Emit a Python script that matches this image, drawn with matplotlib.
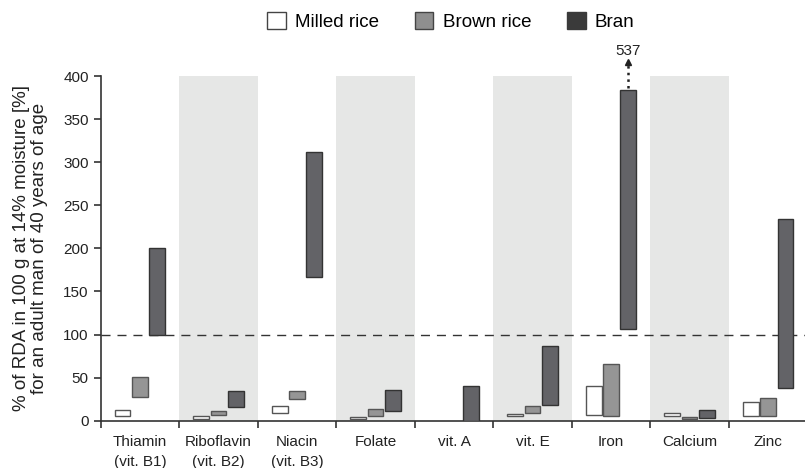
import numpy as np
import matplotlib.pyplot as plt
from matplotlib.patches import Patch

plt.rcParams['font.family'] = ['Liberation Sans', 'DejaVu Sans']

# nutrient categories and tick labels
nutrients = ['Thiamin\n(vit. B1)', 'Riboflavin\n(vit. B2)', 'Niacin\n(vit. B3)', 'Folate',
             'vit. A', 'vit. E', 'Iron', 'Calcium', 'Zinc']

# ranges (% of RDA): low and high per nutrient, None = no data
milled_low = [5, 2, 9, 1.5, None, 5, 7, 6, 6]
milled_high = [13, 5, 17, 4, None, 8, 40, 8.5, 22]
brown_low = [27, 6.5, 25, 5.5, None, 8.5, 5, 2, 6]
brown_high = [51, 11, 34, 13.5, None, 17, 65.5, 4.7, 26.5]
bran_low = [100, 16, 167, 11, 0, 18, 106, 3, 38]
bran_high = [200, 35, 312, 36, 40.5, 87, 537, 12.5, 234]

rda_line = 100
y_cap = 384  # bars above this are cut off and labelled

fig = plt.figure(figsize=(8.05, 4.68), dpi=100)
ax = fig.add_axes([0.125, 0.101, 0.875, 0.7365])

x = np.arange(len(nutrients)) + 0.5
width = 0.2

# shaded bands behind every other nutrient
for i in range(1, len(nutrients), 2):
    ax.axvspan(i, i + 1, ymin=0, ymax=1, color='#e6e7e6', zorder=0, lw=0)

series = [
    (milled_low, milled_high, -0.22, 'white', '#555555'),
    (brown_low, brown_high, 0.0, '#959595', '#555555'),
    (bran_low, bran_high, 0.22, '#636367', '#333333'),
]
for lows, highs, off, fc, ec in series:
    for xi, lo, hi in zip(x, lows, highs):
        if lo is None:
            continue
        top = min(hi, y_cap)
        ax.bar(xi + off, top - lo, bottom=lo, width=width, color=fc,
               edgecolor=ec, linewidth=1, zorder=3)
        if hi > y_cap:
            xa = xi + off
            ax.plot([xa, xa], [y_cap + 2, y_cap + 30], ls=':', color='#222222',
                    lw=1.8, clip_on=False, zorder=4)
            ax.plot([xa], [y_cap + 32], marker='^', color='#222222', ms=5,
                    clip_on=False, zorder=4)
            ax.text(xa, y_cap + 37, f'{hi:.0f}', ha='center', va='bottom',
                    fontsize=11, color='#222222')

ax.axhline(rda_line, color='#333333', lw=1, dashes=(6.5, 5), zorder=2)

ax.set_xlim(0, 8.97)
ax.set_ylim(0, 400)
ax.set_yticks(range(0, 401, 50))
ax.set_xticks(range(0, 9))
ax.set_xticklabels([])
ax.set_xticks(x, minor=True)
ax.set_xticklabels(nutrients, minor=True, fontsize=11, color='#222222',
                   linespacing=1.55)
ax.tick_params(axis='x', which='minor', length=0, pad=10)
ax.tick_params(axis='x', which='major', length=5, width=1.2, color='#333333')
ax.tick_params(axis='y', length=5, width=1.2, color='#333333', labelsize=11,
               labelcolor='#222222')

for s in ['top', 'right']:
    ax.spines[s].set_visible(False)
for s in ['left', 'bottom']:
    ax.spines[s].set_color('#333333')
    ax.spines[s].set_linewidth(1.2)

ax.set_ylabel('% of RDA in 100 g at 14% moisture [%]\nfor an adult man of 40 years of age',
              fontsize=13.5, color='#222222', labelpad=11, linespacing=1.05)

handles = [Patch(facecolor='white', edgecolor='#444444', label='Milled rice'),
           Patch(facecolor='#8f8f8f', edgecolor='#444444', label='Brown rice'),
           Patch(facecolor='#3a3a3a', edgecolor='#3a3a3a', label='Bran')]
fig.legend(handles=handles, loc='upper center', bbox_to_anchor=(0.56, 1.01), ncol=3,
           frameon=False, fontsize=13.5, handlelength=1.0, handleheight=1.0,
           handletextpad=0.5, columnspacing=1.9)

fig.savefig('out.png', dpi=100)
